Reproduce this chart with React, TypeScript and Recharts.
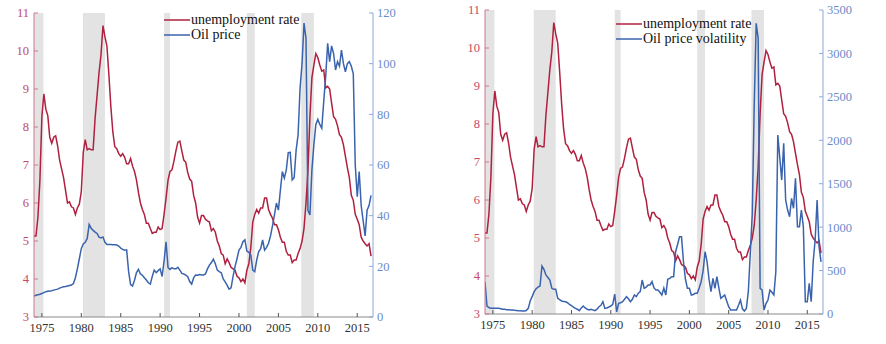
import { LineChart, Line, XAxis, YAxis, ReferenceArea } from "recharts";

// quarterly observations, first quarter of 1974 to last quarter of 2016
const startYear = 1974;

const unemployment = [
  5.13, 5.13, 5.63, 6.6, // 1974
  8.27, 8.87, 8.47, 8.3,
  7.73, 7.57, 7.73, 7.77,
  7.5, 7.13, 6.9, 6.67,
  6.33, 6.0, 6.03, 5.9,
  5.87, 5.7, 5.87, 5.97,
  6.3, 7.33, 7.67, 7.4, // 1980
  7.43, 7.4, 7.4, 8.23,
  8.83, 9.43, 9.9, 10.67,
  10.37, 10.13, 9.37, 8.53,
  7.87, 7.48, 7.43, 7.3,
  7.23, 7.3, 7.2, 7.03,
  7.03, 7.17, 6.97, 6.83,
  6.6, 6.27, 6.0, 5.83,
  5.7, 5.47, 5.47, 5.33,
  5.2, 5.23, 5.23, 5.37,
  5.3, 5.33, 5.7, 6.13, // 1990
  6.6, 6.83, 6.87, 7.1,
  7.37, 7.6, 7.63, 7.37,
  7.13, 7.07, 6.8, 6.63,
  6.57, 6.2, 6.0, 5.63,
  5.47, 5.67, 5.67, 5.57,
  5.53, 5.5, 5.27, 5.33,
  5.23, 5.0, 4.87, 4.67,
  4.63, 4.4, 4.53, 4.43,
  4.3, 4.27, 4.23, 4.07,
  4.03, 3.93, 4.0, 3.9, // 2000
  4.23, 4.4, 4.83, 5.5,
  5.7, 5.83, 5.73, 5.87,
  5.87, 6.13, 6.13, 5.83,
  5.7, 5.6, 5.43, 5.43,
  5.3, 5.1, 4.97, 4.97,
  4.73, 4.63, 4.63, 4.43,
  4.5, 4.5, 4.67, 4.8,
  5.0, 5.33, 6.0, 6.87,
  8.27, 9.3, 9.63, 9.93,
  9.83, 9.63, 9.47, 9.5, // 2010
  9.03, 9.07, 9.0, 8.63,
  8.27, 8.2, 8.03, 7.8,
  7.73, 7.53, 7.23, 6.93,
  6.67, 6.2, 6.07, 5.7,
  5.57, 5.43, 5.1, 5.0,
  4.93, 4.87, 4.93, 4.6,
];

const oilPrice = [
  8.3, 8.6, 8.8, 9.0, // 1974
  9.3, 9.6, 10.0, 10.2,
  10.3, 10.4, 10.6, 10.8,
  11.0, 11.4, 11.7, 11.9,
  12.0, 12.2, 12.4, 12.6,
  13.2, 15.5, 19.0, 23.0,
  27.0, 28.8, 29.5, 31.0, // 1980
  36.5, 35.0, 34.2, 33.5,
  33.0, 31.5, 31.2, 31.6,
  29.5, 28.6, 28.6, 28.6,
  28.5, 28.5, 28.4, 28.0,
  27.2, 26.7, 26.4, 26.5,
  18.0, 12.8, 12.2, 14.5,
  17.5, 18.8, 17.0, 16.5,
  15.5, 14.6, 13.5, 13.0,
  16.0, 18.5, 17.5, 18.3,
  19.0, 16.0, 22.0, 29.7, // 1990
  19.5, 18.8, 19.5, 19.0,
  19.0, 19.6, 18.5, 17.2,
  17.0, 16.5, 15.9, 14.0,
  13.0, 15.5, 16.6, 16.5,
  16.8, 16.6, 16.6, 17.0,
  19.0, 20.5, 21.5, 22.8,
  21.0, 18.5, 17.9, 17.5,
  15.0, 13.9, 12.5, 11.0,
  11.5, 16.0, 19.9, 23.0,
  26.4, 27.5, 29.7, 30.5, // 2000
  26.0, 25.5, 24.5, 18.5,
  17.9, 22.5, 25.8, 27.0,
  30.4, 26.4, 27.5, 29.1,
  32.0, 36.0, 40.3, 45.0,
  42.2, 50.0, 57.4, 54.8,
  58.0, 64.9, 65.0, 54.1,
  55.0, 65.9, 72.0, 90.3,
  100.0, 116.0, 110.0, 42.0,
  40.3, 58.0, 68.0, 76.0,
  78.0, 76.0, 74.5, 85.0, // 2010
  95.0, 108.0, 100.8, 107.0,
  104.0, 97.5, 100.8, 99.0,
  105.4, 100.0, 96.8, 100.0,
  100.8, 99.0, 96.0, 60.0,
  47.5, 57.4, 44.0, 38.0,
  32.0, 42.2, 44.0, 48.0,
];

const oilVolatility = [
  372, 92, 75, 65, // 1974
  65, 65, 65, 65,
  60, 55, 55, 50,
  48, 46, 45, 42,
  40, 38, 36, 35,
  35, 40, 65, 150,
  200, 257, 290, 310, // 1980
  322, 552, 514, 449,
  420, 391, 296, 284,
  284, 181, 165, 150,
  145, 140, 130, 110,
  95, 80, 65, 55,
  38, 70, 92, 70,
  55, 46, 55, 45,
  38, 55, 84, 100,
  142, 65, 70, 80,
  92, 110, 230, 25, // 1990
  123, 130, 142, 170,
  200, 175, 142, 170,
  219, 200, 240, 257,
  391, 296, 310, 334,
  334, 372, 300, 276,
  276, 250, 219, 300,
  219, 400, 411, 430,
  430, 717, 800, 890,
  890, 602, 400, 296,
  296, 219, 225, 238, // 2000
  238, 300, 372, 500,
  717, 602, 400, 257,
  411, 296, 430, 300,
  181, 200, 219, 150,
  84, 46, 46, 46,
  46, 100, 161, 60,
  35, 65, 257, 700,
  1150, 2400, 3346, 3173,
  296, 276, 46, 120,
  161, 276, 250, 219, // 2010
  487, 2060, 1800, 1542,
  1965, 1312, 1197, 1120,
  1332, 1217, 1562, 1005,
  1005, 1197, 1005, 142,
  142, 353, 142, 602,
  852, 1312, 775, 600,
];

const recessions = [
  [1974.0, 1975.2],
  [1980.2, 1983.0],
  [1990.5, 1991.25],
  [2001.0, 2002.0],
  [2007.9, 2009.5],
];

const yearTicks = [1975, 1980, 1985, 1990, 1995, 2000, 2005, 2010, 2015];
const rateTicks = [3, 4, 5, 6, 7, 8, 9, 10, 11];
const priceTicks = [0, 20, 40, 60, 80, 100, 120];
const volTicks = [0, 500, 1000, 1500, 2000, 2500, 3000, 3500];

const data = unemployment.map((u, i) => ({
  t: startYear + i / 4,
  unemp: u,
  price: oilPrice[i],
  vol: oilVolatility[i],
}));

const RED = "#b0203f";
const BLUE = "#3a63ad";
const RED_AXIS = "#d0798d";
const BLUE_AXIS = "#8ea8d8";
const RED_TEXT = "#c44a66";
const BLUE_TEXT = "#6a8cc9";
const FONT = "'Liberation Serif', 'DejaVu Serif', serif";
const FS = 12.5;

const LeftTick = ({ x, y, payload }: any) => (
  <g>
    <line x1={x + 5} x2={x + 9} y1={y} y2={y} stroke={RED_AXIS} />
    <text x={x} y={y} dy="0.35em" textAnchor="end" fill={RED_TEXT} fontSize={FS} fontFamily={FONT}>
      {payload.value}
    </text>
  </g>
);

const RightTick = ({ x, y, payload }: any) => (
  <g>
    <line x1={x - 4} x2={x - 8} y1={y} y2={y} stroke={BLUE_AXIS} />
    <text x={x} y={y} dy="0.35em" textAnchor="start" fill={BLUE_TEXT} fontSize={FS} fontFamily={FONT}>
      {payload.value}
    </text>
  </g>
);

const BottomTick = ({ x, y, payload }: any) => (
  <g>
    <line x1={x} x2={x} y1={y - 6} y2={y - 10} stroke="#555" />
    <text x={x} y={y} dy="0.71em" textAnchor="middle" fill="#333" fontSize={FS} fontFamily={FONT}>
      {payload.value}
    </text>
  </g>
);

const LegendBox = ({ second, left, top }: { second: string; left: number; top: number }) => (
  <div
    style={{
      position: "absolute",
      left,
      top,
      fontFamily: FONT,
      fontSize: 14,
      color: "#111",
      lineHeight: "14.5px",
      whiteSpace: "nowrap",
    }}
  >
    {[
      { c: RED, label: "unemployment rate" },
      { c: BLUE, label: second },
    ].map((row) => (
      <div key={row.label} style={{ display: "flex", alignItems: "center" }}>
        <svg width={26} height={10} style={{ marginRight: 1 }}>
          <line x1={0} x2={26} y1={5} y2={5} stroke={row.c} strokeWidth={1.5} />
        </svg>
        <span>{row.label}</span>
      </div>
    ))}
  </div>
);

type PanelProps = {
  left: number;
  width: number;
  margin: { top: number; right: number; bottom: number; left: number };
  seriesKey: string;
  seriesName: string;
  rightTicks: number[];
  legendPos: { left: number; top: number };
};

const Panel = ({ left, width, margin, seriesKey, seriesName, rightTicks, legendPos }: PanelProps) => (
  <div style={{ position: "absolute", left, top: 0, width, height: 344 }}>
    <LineChart width={width} height={344} data={data} margin={margin}>
      {recessions.map(([a, b]) => (
        <ReferenceArea key={a} yAxisId="u" x1={a} x2={b} fill="#e3e3e3" fillOpacity={1} stroke="none" />
      ))}
      <XAxis
        dataKey="t"
        type="number"
        domain={[1974, 2017]}
        ticks={yearTicks}
        allowDataOverflow
        height={22}
        tickSize={0}
        tickMargin={6}
        tick={<BottomTick />}
        axisLine={{ stroke: "#8a8a8a" }}
      />
      <YAxis
        yAxisId="u"
        domain={[3, 11]}
        ticks={rateTicks}
        width={30}
        tickSize={0}
        tickMargin={5}
        tick={<LeftTick />}
        axisLine={{ stroke: RED_AXIS }}
      />
      <YAxis
        yAxisId="o"
        orientation="right"
        domain={[0, rightTicks[rightTicks.length - 1]]}
        ticks={rightTicks}
        width={45}
        tickSize={0}
        tickMargin={4}
        tick={<RightTick />}
        axisLine={{ stroke: BLUE_AXIS }}
      />
      <Line yAxisId="u" dataKey="unemp" stroke={RED} strokeWidth={1.5} dot={false} isAnimationActive={false} />
      <Line yAxisId="o" dataKey={seriesKey} stroke={BLUE} strokeWidth={1.5} dot={false} isAnimationActive={false} />
    </LineChart>
    <LegendBox second={seriesName} left={legendPos.left} top={legendPos.top} />
  </div>
);

export default function App() {
  return (
    <div style={{ position: "absolute", left: 0, top: 0, width: 886, height: 344, background: "#fff" }}>
      <Panel
        left={0}
        width={420}
        margin={{ top: 13, right: 2, bottom: 5, left: 4 }}
        seriesKey="price"
        seriesName="Oil price"
        rightTicks={priceTicks}
        legendPos={{ left: 164, top: 13 }}
      />
      <Panel
        left={440}
        width={446}
        margin={{ top: 10, right: 18, bottom: 8, left: 15 }}
        seriesKey="vol"
        seriesName="Oil price volatility"
        rightTicks={volTicks}
        legendPos={{ left: 176, top: 17 }}
      />
    </div>
  );
}
